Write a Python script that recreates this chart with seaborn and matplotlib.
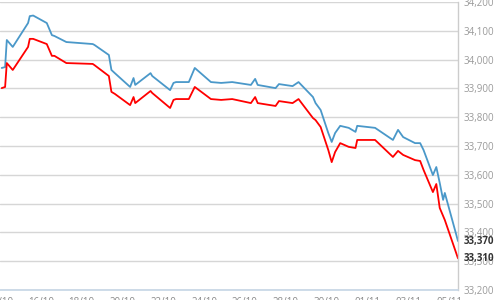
import matplotlib
matplotlib.use("Agg")
import matplotlib.pyplot as plt
import matplotlib.dates as mdates
import matplotlib.ticker as mticker
import seaborn as sns
import pandas as pd

times = [
    "2023-10-14 02:00", "2023-10-14 06:00", "2023-10-14 08:00", "2023-10-14 15:00",
    "2023-10-15 09:00", "2023-10-15 11:00", "2023-10-15 15:00", "2023-10-16 07:00",
    "2023-10-16 13:00", "2023-10-16 16:00", "2023-10-17 06:00", "2023-10-18 13:00",
    "2023-10-18 15:00", "2023-10-19 08:00", "2023-10-19 11:00", "2023-10-19 15:00",
    "2023-10-20 09:00", "2023-10-20 13:00", "2023-10-20 15:00", "2023-10-21 09:00",
    "2023-10-21 11:00", "2023-10-22 08:00", "2023-10-22 12:00", "2023-10-22 15:00",
    "2023-10-23 06:00", "2023-10-23 13:00", "2023-10-24 08:00", "2023-10-24 20:00",
    "2023-10-25 09:00", "2023-10-26 07:00", "2023-10-26 12:00", "2023-10-26 15:00",
    "2023-10-27 12:00", "2023-10-27 16:00", "2023-10-28 08:00", "2023-10-28 15:00",
    "2023-10-29 08:00", "2023-10-29 11:00", "2023-10-29 17:00", "2023-10-30 02:00",
    "2023-10-30 06:00", "2023-10-30 10:00", "2023-10-30 16:00", "2023-10-31 02:00",
    "2023-10-31 10:00", "2023-10-31 12:00", "2023-11-01 09:00", "2023-11-02 06:00",
    "2023-11-02 12:00", "2023-11-02 18:00", "2023-11-03 08:00", "2023-11-03 14:00",
    "2023-11-03 18:00", "2023-11-04 05:00", "2023-11-04 09:00", "2023-11-04 13:00",
    "2023-11-04 17:00", "2023-11-04 19:00", "2023-11-05 10:30",
]

sell_price = [
    33971, 33974, 34068, 34044,
    34127, 34151, 34153, 34127,
    34085, 34082, 34061, 34054,
    34051, 34016, 33964, 33953,
    33905, 33936, 33912, 33953,
    33943, 33894, 33919, 33922,
    33922, 33971, 33922, 33919,
    33922, 33912, 33933, 33912,
    33901, 33915, 33908, 33922,
    33870, 33849, 33825, 33745,
    33714, 33745, 33770, 33763,
    33749, 33770, 33763, 33721,
    33756, 33731, 33710, 33710,
    33686, 33599, 33627, 33572,
    33513, 33537, 33370,
]

buy_price = [
    33901, 33905, 33988, 33964,
    34044, 34072, 34072, 34054,
    34013, 34013, 33988, 33985,
    33981, 33943, 33888, 33881,
    33842, 33870, 33849, 33891,
    33884, 33832, 33860, 33863,
    33863, 33905, 33863, 33860,
    33863, 33849, 33870, 33849,
    33839, 33856, 33849, 33863,
    33797, 33790, 33766, 33686,
    33644, 33679, 33710, 33697,
    33693, 33721, 33721, 33662,
    33683, 33669, 33651, 33648,
    33617, 33540, 33568, 33485,
    33457, 33443, 33310,
]

tick_dates = ["2023-10-14", "2023-10-16", "2023-10-18", "2023-10-20", "2023-10-22",
              "2023-10-24", "2023-10-26", "2023-10-28", "2023-10-30", "2023-11-01",
              "2023-11-03", "2023-11-05"]
y_ticks = [33200, 33300, 33400, 33500, 33600, 33700, 33800, 33900, 34000, 34100, 34200]
end_labels = ["33,370", "33,310"]

df = pd.DataFrame({"time": pd.to_datetime(times), "sell": sell_price, "buy": buy_price})

sns.set_style("white")
plt.rcParams["font.family"] = ["Open Sans", "DejaVu Sans"]

fig = plt.figure(figsize=(5, 3), dpi=100)
ax = fig.add_axes([0.0, 10 / 300, 458 / 500, 288 / 300])

sns.lineplot(data=df, x="time", y="sell", ax=ax, color="#4a98c9", linewidth=1.3)
sns.lineplot(data=df, x="time", y="buy", ax=ax, color="#ff0000", linewidth=1.3)

ax.set_xlim(pd.Timestamp("2023-10-14 01:40"), df["time"].iloc[-1])
ax.set_ylim(33200, 34200)
ax.set_xlabel("")
ax.set_ylabel("")

ax.set_yticks(y_ticks)
ax.yaxis.set_major_formatter(mticker.FuncFormatter(lambda v, p: f"{int(v):,}"))
ax.yaxis.tick_right()
ax.tick_params(axis="y", length=0, pad=4, labelsize=7, labelcolor="#9a9a9a")
ax.grid(axis="y", color="#d6d6d6", linewidth=1)
ax.grid(axis="x", visible=False)

ax.set_xticks(pd.to_datetime(tick_dates))
ax.xaxis.set_major_formatter(mdates.DateFormatter("%d/%m"))
ax.tick_params(axis="x", length=4, width=0.8, color="#c5d5e5", pad=1,
               labelsize=7, labelcolor="#8a8a8a")

for side in ["left", "top"]:
    ax.spines[side].set_visible(False)
ax.spines["right"].set_color("#cccccc")
ax.spines["right"].set_linewidth(1)
ax.spines["bottom"].set_color("#c5d5e5")
ax.spines["bottom"].set_linewidth(1.2)

# end-value labels
ax.annotate(end_labels[0], xy=(1, sell_price[-1]), xycoords=("axes fraction", "data"),
            xytext=(4, 0), textcoords="offset points", va="center", ha="left",
            fontsize=7, color="#333333", fontweight="bold")
ax.annotate(end_labels[1], xy=(1, buy_price[-1]), xycoords=("axes fraction", "data"),
            xytext=(4, 0), textcoords="offset points", va="center", ha="left",
            fontsize=7, color="#333333", fontweight="bold")

fig.savefig("out.png", dpi=100, facecolor="white")
